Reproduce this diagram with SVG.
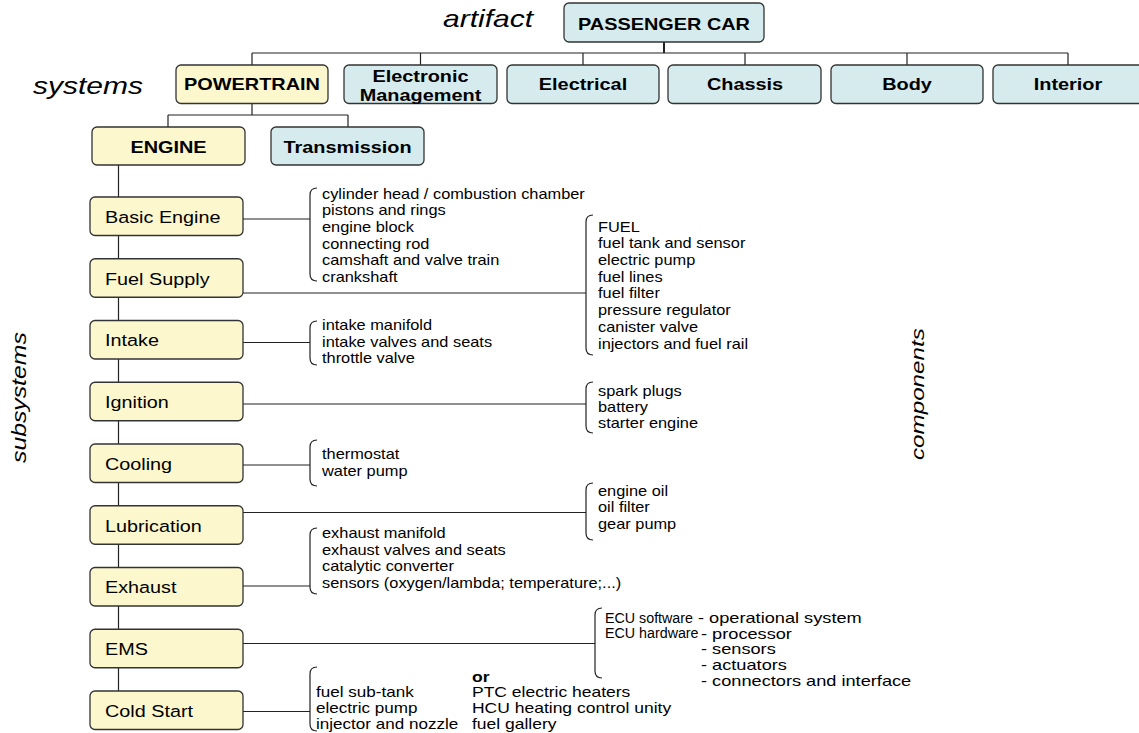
<svg xmlns="http://www.w3.org/2000/svg" width="1139" height="733" viewBox="0 0 1139 733">
<style>
text{font-family:"Liberation Sans",Arial,sans-serif;fill:#000}
.yb{fill:#fcf7cd;stroke:#333;stroke-width:1.3}
.bb{fill:#d6ebee;stroke:#333;stroke-width:1.3}
.lbl{font-size:16.3px;font-weight:bold;text-anchor:middle}
.sub{font-size:16.5px}
.lst{font-size:14px}
.it{font-style:italic;font-size:24px}
.c{fill:none;stroke:#222;stroke-width:1.2}
</style>
<rect width="1139" height="733" fill="#fff"/>
<g id="labels">
<text class="it" transform="translate(443,26.5) scale(1.25,1)">artifact</text>
<text class="it" transform="translate(33,94) scale(1.25,1)">systems</text>
<text class="it" style="font-size:24.8px" transform="translate(26,463) rotate(-90) scale(1,0.78)">subsystems</text>
<text class="it" style="font-size:24.2px" transform="translate(924,460) rotate(-90) scale(1,0.78)">components</text>
</g>
<g id="connectors">
<path class="c" d="M664,42V53" style="stroke-width:2"/>
<path class="c" d="M252,53H1068M252,53V65M420.5,53V65M583,53V65M745,53V65M907,53V65M1068,53V65"/>
<path class="c" d="M252,103V115M168,115H348M168,115V127M348,115V127"/>
<path class="c" d="M118.5,165V691"/>
<path class="c" d="M243,219H310M243,293H586M243,342.5H310M243,404H586M243,465H310M243,512.5H586M243,586H310M243,643.5H595M243,711.5H310"/>
<path class="c" d="M317,188Q310,188 310,195V274Q310,281 317,281"/>
<path class="c" d="M593,215Q586,215 586,222V348Q586,355 593,355"/>
<path class="c" d="M317,321Q310,321 310,328V358Q310,365 317,365"/>
<path class="c" d="M593,382Q586,382 586,389V426Q586,433 593,433"/>
<path class="c" d="M317,440Q310,440 310,447V479Q310,486 317,486"/>
<path class="c" d="M593,483Q586,483 586,490V533Q586,540 593,540"/>
<path class="c" d="M317,528Q310,528 310,535V587Q310,594 317,594"/>
<path class="c" d="M602,608Q595,608 595,615V671Q595,678 602,678"/>
<path class="c" d="M317,667Q310,667 310,674V724Q310,731 317,731"/>
</g>
<g id="passenger-car"><rect class="bb" x="564" y="3" width="200" height="39" rx="5"/><text class="lbl" transform="translate(664,29.5) scale(1.22,1)">PASSENGER CAR</text></g>
<g id="powertrain"><rect class="yb" x="176" y="65" width="152" height="38.5" rx="5"/><text class="lbl" transform="translate(252,90) scale(1.22,1)">POWERTRAIN</text></g>
<g id="electronic-management"><rect class="bb" x="344" y="65" width="153" height="38.5" rx="5"/><text class="lbl" transform="translate(420.5,82) scale(1.22,1)"><tspan x="0" y="0">Electronic</tspan><tspan x="0" y="19">Management</tspan></text></g>
<g id="electrical"><rect class="bb" x="507" y="65" width="152" height="38.5" rx="5"/><text class="lbl" transform="translate(583,90) scale(1.22,1)">Electrical</text></g>
<g id="chassis"><rect class="bb" x="668" y="65" width="153" height="38.5" rx="5"/><text class="lbl" transform="translate(745,90) scale(1.22,1)">Chassis</text></g>
<g id="body"><rect class="bb" x="831" y="65" width="152" height="38.5" rx="5"/><text class="lbl" transform="translate(907,90) scale(1.22,1)">Body</text></g>
<g id="interior"><rect class="bb" x="993" y="65" width="152" height="38.5" rx="5"/><text class="lbl" transform="translate(1068,90) scale(1.22,1)">Interior</text></g>
<g id="engine"><rect class="yb" x="92" y="127" width="153" height="38" rx="5"/><text class="lbl" transform="translate(168.5,152.5) scale(1.22,1)">ENGINE</text></g>
<g id="transmission"><rect class="bb" x="271" y="127" width="153" height="38" rx="5"/><text class="lbl" transform="translate(347.5,152.5) scale(1.22,1)">Transmission</text></g>
<g id="basic-engine"><rect class="yb" x="90" y="197" width="153" height="38.5" rx="5"/><text class="sub" transform="translate(105,222.75) scale(1.2,1)">Basic Engine</text></g>
<g id="fuel-supply"><rect class="yb" x="90" y="258.75" width="153" height="38.5" rx="5"/><text class="sub" transform="translate(105,284.5) scale(1.2,1)">Fuel Supply</text></g>
<g id="intake"><rect class="yb" x="90" y="320.5" width="153" height="38.5" rx="5"/><text class="sub" transform="translate(105,346.25) scale(1.2,1)">Intake</text></g>
<g id="ignition"><rect class="yb" x="90" y="382.25" width="153" height="38.5" rx="5"/><text class="sub" transform="translate(105,408) scale(1.2,1)">Ignition</text></g>
<g id="cooling"><rect class="yb" x="90" y="444" width="153" height="38.5" rx="5"/><text class="sub" transform="translate(105,469.75) scale(1.2,1)">Cooling</text></g>
<g id="lubrication"><rect class="yb" x="90" y="505.75" width="153" height="38.5" rx="5"/><text class="sub" transform="translate(105,531.5) scale(1.2,1)">Lubrication</text></g>
<g id="exhaust"><rect class="yb" x="90" y="567.5" width="153" height="38.5" rx="5"/><text class="sub" transform="translate(105,593.25) scale(1.2,1)">Exhaust</text></g>
<g id="ems"><rect class="yb" x="90" y="629.25" width="153" height="38.5" rx="5"/><text class="sub" transform="translate(105,655) scale(1.2,1)">EMS</text></g>
<g id="cold-start"><rect class="yb" x="90" y="691" width="153" height="38.5" rx="5"/><text class="sub" transform="translate(105,716.75) scale(1.2,1)">Cold Start</text></g>
<g id="basic-engine-components"><text class="lst" transform="translate(322,198.5) scale(1.17,1)"><tspan x="0" y="0">cylinder head / combustion chamber</tspan><tspan x="0" y="16.7">pistons and rings</tspan><tspan x="0" y="33.4">engine block</tspan><tspan x="0" y="50.1">connecting rod</tspan><tspan x="0" y="66.8">camshaft and valve train</tspan><tspan x="0" y="83.5">crankshaft</tspan></text></g>
<g id="fuel-components"><text class="lst" transform="translate(598,231.7) scale(1.17,1)"><tspan x="0" y="0">FUEL</tspan><tspan x="0" y="16.7">fuel tank and sensor</tspan><tspan x="0" y="33.4">electric pump</tspan><tspan x="0" y="50.1">fuel lines</tspan><tspan x="0" y="66.8">fuel filter</tspan><tspan x="0" y="83.5">pressure regulator</tspan><tspan x="0" y="100.2">canister valve</tspan><tspan x="0" y="116.9">injectors and fuel rail</tspan></text></g>
<g id="intake-components"><text class="lst" transform="translate(322,330) scale(1.17,1)"><tspan x="0" y="0">intake manifold</tspan><tspan x="0" y="16.7">intake valves and seats</tspan><tspan x="0" y="33.4">throttle valve</tspan></text></g>
<g id="ignition-components"><text class="lst" transform="translate(598,396) scale(1.17,1)"><tspan x="0" y="0">spark plugs</tspan><tspan x="0" y="16">battery</tspan><tspan x="0" y="32">starter engine</tspan></text></g>
<g id="cooling-components"><text class="lst" transform="translate(322,459) scale(1.17,1)"><tspan x="0" y="0">thermostat</tspan><tspan x="0" y="16.7">water pump</tspan></text></g>
<g id="lubrication-components"><text class="lst" transform="translate(598,496) scale(1.17,1)"><tspan x="0" y="0">engine oil</tspan><tspan x="0" y="16.5">oil filter</tspan><tspan x="0" y="33">gear pump</tspan></text></g>
<g id="exhaust-components"><text class="lst" transform="translate(322,538) scale(1.17,1)"><tspan x="0" y="0">exhaust manifold</tspan><tspan x="0" y="16.7">exhaust valves and seats</tspan><tspan x="0" y="33.4">catalytic converter</tspan><tspan x="0" y="50.1">sensors (oxygen/lambda; temperature;...)</tspan></text></g>
<g id="ems-components">
<text class="lst" transform="translate(605,623) scale(1.02,1)"><tspan x="0" y="0">ECU software</tspan><tspan x="0" y="15.5">ECU hardware</tspan></text>
<text class="lst" transform="translate(698,623) scale(1.3,1)">- operational system</text>
<text class="lst" transform="translate(701,638.5) scale(1.3,1)"><tspan x="0" y="0">- processor</tspan><tspan x="0" y="15.8">- sensors</tspan><tspan x="0" y="31.6">- actuators</tspan><tspan x="0" y="47.4">- connectors and interface</tspan></text>
</g>
<g id="cold-start-components">
<text class="lst" transform="translate(316,696.7) scale(1.22,1)"><tspan x="0" y="0">fuel sub-tank</tspan><tspan x="0" y="16.3">electric pump</tspan><tspan x="0" y="32.6">injector and nozzle</tspan></text>
<text class="lst" transform="translate(472,681.5) scale(1.25,1)"><tspan x="0" y="0" font-weight="bold">or</tspan><tspan x="0" y="15.2">PTC electric heaters</tspan><tspan x="0" y="31.5">HCU heating control unity</tspan><tspan x="0" y="47.8">fuel gallery</tspan></text>
</g>
</svg>
